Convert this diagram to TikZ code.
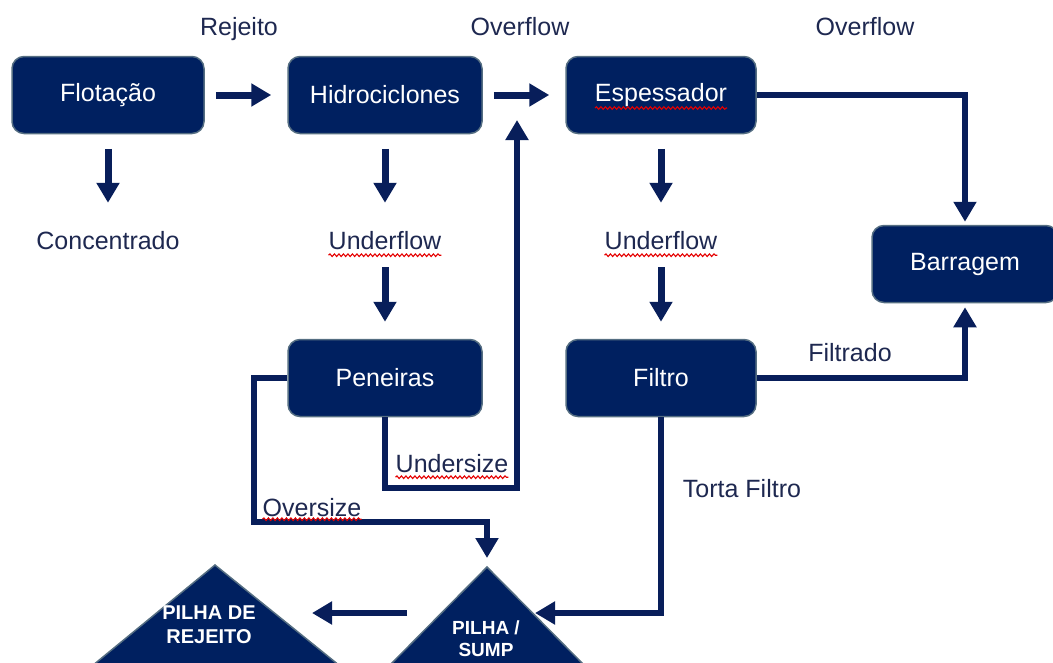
\documentclass[tikz,border=0pt]{standalone}
\usepackage{fontspec}
\setmainfont{Liberation Sans}
\usetikzlibrary{arrows.meta}
\usetikzlibrary{decorations.pathmorphing}

\definecolor{azul}{RGB}{0,32,96}
\definecolor{bordacinza}{RGB}{85,110,130}
\definecolor{textoazul}{RGB}{30,40,80}
\definecolor{linhaazul}{RGB}{8,30,90}

\tikzset{
  caixa/.style={rectangle, rounded corners=12pt, fill=azul, draw=bordacinza, line width=1.5pt,
    text=white, minimum height=77pt, font=\fontsize{25}{30}\selectfont},
  rotulo/.style={inner sep=0pt, text height=18pt, text depth=5pt, text=textoazul,
    font=\fontsize{25}{30}\selectfont},
  seta/.style={-{Triangle[length=20pt,width=22pt]}, line width=7pt, draw=linhaazul},
  fluxo/.style={-{Triangle[length=20pt,width=22pt]}, line width=6pt, draw=linhaazul},
  sublinha/.style={draw=red!90!black, line width=1.1pt, decorate,
    decoration={snake, amplitude=1.3pt, segment length=4.5pt}},
  monte/.style={fill=azul, draw=bordacinza, line width=1.5pt},
  montetexto/.style={text=white, align=center, inner sep=0pt}
}

\begin{document}
\begin{tikzpicture}[x=1pt,y=-1pt]

    \useasboundingbox (0,0) rectangle (1053,662);

    % process boxes
    \node[caixa, minimum width=192pt] (flot) at (108,95) {Flotação};
    \node[caixa, minimum width=194pt] (hidro) at (385,95) {Hidrociclones};
    \node[caixa, minimum width=190pt] (esp) at (661,95) {Espessador};
    \node[caixa, minimum width=186pt] (barr) at (965,264) {Barragem};
    \node[caixa, minimum width=194pt] (pen) at (385,378) {Peneiras};
    \node[caixa, minimum width=190pt] (filtro) at (661,378) {Filtro};

    % piles
    \filldraw[monte] (215,565) -- (340,666) -- (92,666) -- cycle;
    \filldraw[monte] (487,567) -- (585,666) -- (389,666) -- cycle;
    \node[montetexto, font=\bfseries\fontsize{20}{24}\selectfont] (pilha) at (209,625) {PILHA DE\\REJEITO};
    \node[montetexto, font=\bfseries\fontsize{19}{22}\selectfont] (sump) at (486,639) {PILHA /\\SUMP};
    \coordinate (sumpTop) at (487,567);
    \coordinate (sumpR) at (535,613);
    \coordinate (sumpW) at (407,613);
    \coordinate (pilhaE) at (312,613);

    % stream labels
    \node[rotulo] (rej) at (239,28.5) {Rejeito};
    \node[rotulo] (of1) at (520,28.5) {Overflow};
    \node[rotulo] (of2) at (865,28.5) {Overflow};
    \node[rotulo] (conc) at (108,242.5) {Concentrado};
    \node[rotulo] (uf1) at (385,242.5) {Underflow};
    \node[rotulo] (uf2) at (661,242.5) {Underflow};
    \node[rotulo] (filtrado) at (850,354.5) {Filtrado};
    \node[rotulo] (torta) at (742,490.5) {Torta Filtro};
    \node[rotulo] (under) at (452,465.5) {Undersize};
    \node[rotulo] (over) at (312,509.5) {Oversize};

    % short arrows
    \foreach \a/\b in {flot/conc, hidro/uf1, esp/uf2}
      \draw[seta, shorten <=14.5pt, shorten >=28pt] (\a.south) -- (\b.north);
    \foreach \a/\b in {uf1/pen, uf2/filtro}
      \draw[seta, shorten <=13pt, shorten >=17pt] (\a.south) -- (\b.north);
    \draw[seta, shorten <=11pt, shorten >=16pt] (flot) -- (hidro);
    \draw[seta, shorten <=11pt, shorten >=16pt] (hidro) -- (esp);

    % connectors
    \coordinate (canto1) at (517,488);
    \coordinate (retorno) at (517,120);
    \coordinate (canto2) at (254,522);
    \draw[fluxo, shorten >=3pt] (esp.east) -| (barr.north);
    \draw[fluxo, shorten >=4pt] (filtro.east) -| (barr.south);
    \draw[fluxo] (pen.south) |- (canto1) -- (retorno);
    \draw[fluxo, shorten >=9pt] (pen.west) -| (canto2) -| (sumpTop);
    \draw[fluxo] (filtro.south) |- (sumpR);
    \draw[fluxo] (sumpW) -- (pilhaE);

    % spell check marks
    \draw[sublinha] ([yshift=-1pt]uf1.south west) -- ([yshift=-1pt]uf1.south east);
    \draw[sublinha] ([yshift=-1pt]uf2.south west) -- ([yshift=-1pt]uf2.south east);
    \draw[sublinha] (under.south west) -- (under.south east);
    \draw[sublinha] ([yshift=2pt]over.south west) -- ([yshift=2pt]over.south east);
    \draw[sublinha] ([xshift=-66pt,yshift=-13pt]esp.center) -- ([xshift=66pt,yshift=-13pt]esp.center);

\end{tikzpicture}
\end{document}
